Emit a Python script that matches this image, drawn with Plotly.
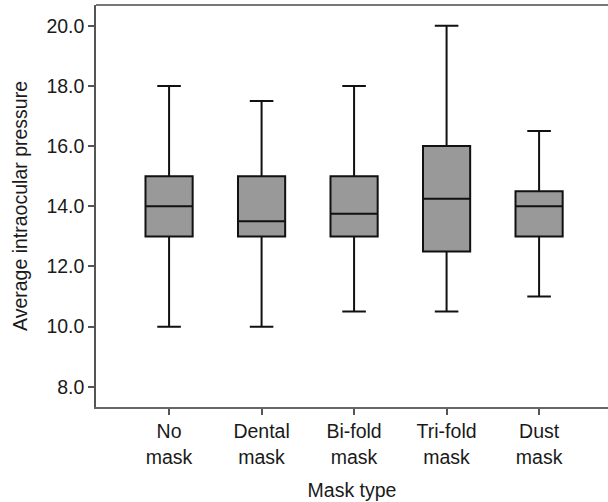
import plotly.graph_objects as go

categories = ["No mask", "Dental mask", "Bi-fold mask", "Tri-fold mask", "Dust mask"]
tick_labels = ["No<br>mask", "Dental<br>mask", "Bi-fold<br>mask", "Tri-fold<br>mask", "Dust<br>mask"]
lower_whisker = [10.0, 10.0, 10.5, 10.5, 11.0]
q1_values = [13.0, 13.0, 13.0, 12.5, 13.0]
median_values = [14.0, 13.5, 13.75, 14.25, 14.0]
q3_values = [15.0, 15.0, 15.0, 16.0, 14.5]
upper_whisker = [18.0, 17.5, 18.0, 20.0, 16.5]
y_ticks = [8.0, 10.0, 12.0, 14.0, 16.0, 18.0, 20.0]

fig = go.Figure()
fig.add_trace(go.Box(
    x=categories,
    q1=q1_values,
    median=median_values,
    q3=q3_values,
    lowerfence=lower_whisker,
    upperfence=upper_whisker,
    boxpoints=False,
    width=0.51,
    whiskerwidth=0.5,
    fillcolor="#999999",
    line=dict(color="#111111", width=2),
    showlegend=False,
    hoverinfo="skip",
))

font_family = "Liberation Sans, Arial, sans-serif"
fs = 19.5
fig.update_layout(
    width=608, height=502,
    margin=dict(l=96, r=0, t=5, b=95),
    plot_bgcolor="white", paper_bgcolor="white",
    font=dict(family=font_family, size=fs, color="#1a1a1a"),
    shapes=[dict(type="line", xref="paper", yref="paper", x0=0, x1=1, y0=1, y1=1,
                 line=dict(color="#777777", width=2))],
)
fig.update_xaxes(
    type="category",
    categoryorder="array", categoryarray=categories,
    tickvals=categories, ticktext=tick_labels,
    range=[-0.79, 4.745],
    showline=True, linecolor="#666666", linewidth=1.5, mirror=False,
    ticks="outside", ticklen=6, tickcolor="#555555", tickwidth=1.5,
    showgrid=False, zeroline=False, automargin=False,
    title=dict(text="Mask type", standoff=17, font=dict(size=fs)),
    tickfont=dict(size=fs),
)
fig.update_yaxes(
    range=[7.33, 20.69],
    tickvals=y_ticks, ticktext=[f"{v:.1f}" for v in y_ticks],
    showline=True, linecolor="#555555", linewidth=1.5, mirror=False,
    ticks="outside", ticklen=6, tickcolor="#555555", tickwidth=1.5,
    showgrid=False, zeroline=False, automargin=False,
    title=dict(text="Average intraocular pressure", standoff=14, font=dict(size=fs)),
    tickfont=dict(size=fs),
)

fig.write_html(
    "out.html",
    config={"displayModeBar": False},
    post_script="document.body.style.margin='0';document.body.style.overflow='hidden';",
)
